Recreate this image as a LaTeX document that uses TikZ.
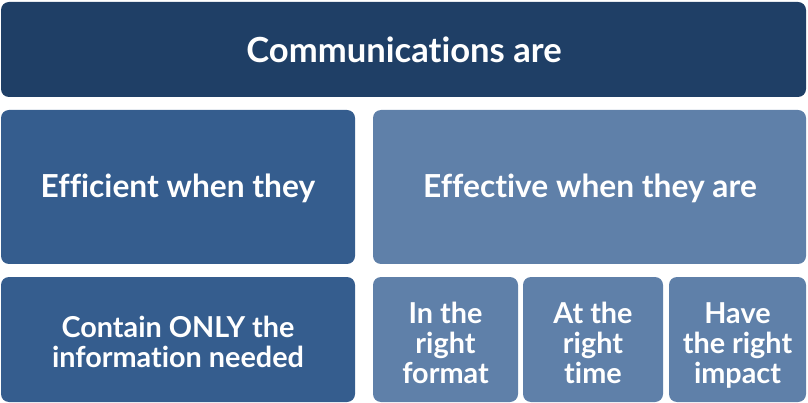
\documentclass[tikz,border=0pt]{standalone}
\usepackage{fontspec}
\setmainfont[Ligatures=NoCommon]{Lato}
\definecolor{cdark}{HTML}{1F3F66}
\definecolor{cmid}{HTML}{355D8E}
\definecolor{clight}{HTML}{5F80A9}
\begin{document}
\begin{tikzpicture}[x=1pt,y=-1pt,
  box/.style={rounded corners=8pt, fill=#1, draw=none},
  lbl/.style={text=white, font=\bfseries\fontsize{#1}{#1}\selectfont, align=center, inner sep=0pt},
  sml/.style={text=white, font=\bfseries\fontsize{28.8}{30}\selectfont, align=center, inner sep=0pt}]
\useasboundingbox (0,0) rectangle (808,403);
\path[box=cdark] (1,2) rectangle (806,97);
\path[box=cmid] (1,110) rectangle (355,264);
\path[box=clight] (373,110) rectangle (806,264);
\path[box=cmid] (1,277) rectangle (355,402);
\path[box=clight] (373,277) rectangle (518,402);
\path[box=clight] (523,277) rectangle (663,402);
\path[box=clight] (669,277) rectangle (806,402);
\node[lbl=34.6] (top) at (404,50) {Communications are};
\node[lbl=31.7] (eff) at (178,188) {Efficient when they};
\node[lbl=31.7] (efv) at (590,188) {Effective when they are};
\node[sml] (only) at (178,342) {Contain ONLY the\\information needed};
\node[sml] (fmt) at (445.5,343) {In the\\right\\format};
\node[sml] (tim) at (593,343) {At the\\right\\time};
\node[sml] (imp) at (737.5,345) {Have\\the right\\impact};
\end{tikzpicture}
\end{document}
